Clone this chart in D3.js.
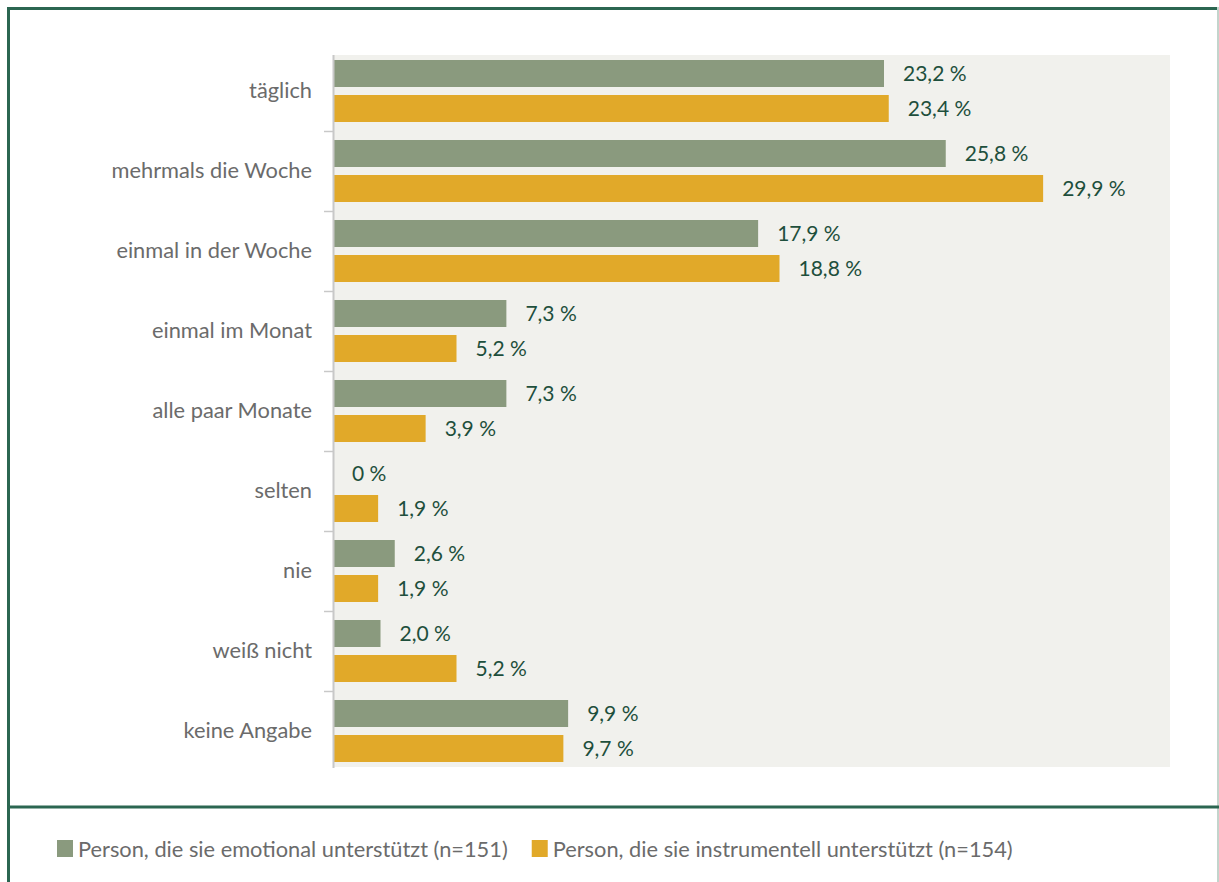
<!DOCTYPE html>
<html><head><meta charset="utf-8">
<script src="https://cdn.jsdelivr.net/npm/d3@7"></script>
<style>
html,body{margin:0;padding:0;background:#fff;}
svg{display:block;font-family:Lato, "Open Sans", sans-serif;}
</style></head>
<body>
<svg id="chart" width="1219" height="882"></svg>
<script>
const categories = ["täglich","mehrmals die Woche","einmal in der Woche","einmal im Monat","alle paar Monate","selten","nie","weiß nicht","keine Angabe"];
const seriesNames = ["Person, die sie emotional unterstützt (n=151)","Person, die sie instrumentell unterstützt (n=154)"];
const emotional = [23.2,25.8,17.9,7.3,7.3,0,2.6,2.0,9.9];
const instrumentell = [23.4,29.9,18.8,5.2,3.9,1.9,1.9,5.2,9.7];
const colors = ["#8a9a7e","#e1a929"];

const svg = d3.select("#chart");
const fmt = v => d3.format(".1f")(v).replace(".", ",") ;
const labelFmt = v => (v === 0 ? "0" : fmt(v)) + " %";

// frame
svg.append("line").attr("x1",8.5).attr("x2",8.5).attr("y1",7).attr("y2",882).attr("stroke","#2b6651").attr("stroke-width",3);
svg.append("line").attr("x1",7).attr("x2",1219).attr("y1",8.5).attr("y2",8.5).attr("stroke","#2b6651").attr("stroke-width",3);
svg.append("line").attr("x1",1218).attr("x2",1218).attr("y1",7).attr("y2",882).attr("stroke","#c3d4cc").attr("stroke-width",2);
svg.append("line").attr("x1",7).attr("x2",1219).attr("y1",807).attr("y2",807).attr("stroke","#2b6651").attr("stroke-width",3);

const x = d3.scaleLinear().domain([0,35]).range([333, 333+35*23.75]);
const y = d3.scaleBand().domain(categories).range([51,771]);
const ys = d3.scaleBand().domain([0,1]).range([9,71]).paddingInner(8/35).paddingOuter(0);

// plot background
svg.append("rect").attr("x",333).attr("y",55).attr("width",1170-333).attr("height",767-55).attr("fill","#f1f1ed");

const data = [emotional, instrumentell];
const g = svg.append("g");
categories.forEach((c,i)=>{
  data.forEach((s,j)=>{
    const v = s[i];
    const yy = y(c)+ys(j);
    g.append("rect").attr("x",x(0)).attr("y",yy).attr("width",x(v)-x(0)).attr("height",ys.bandwidth()).attr("fill",colors[j]);
    g.append("text").attr("x",x(v)+19).attr("y",yy+ys.bandwidth()/2).attr("dy","0.35em")
      .attr("font-size",21).attr("fill","#1e4f3c").text(labelFmt(v));
  });
  svg.append("text").attr("x",312).attr("y",y(c)+y.bandwidth()/2-1).attr("dy","0.35em")
    .attr("text-anchor","end").attr("font-size",21.8).attr("fill","#6b6b6b").text(c);
});

// axis
svg.append("line").attr("x1",333.5).attr("x2",333.5).attr("y1",55).attr("y2",768).attr("stroke","#c8c8c8").attr("stroke-width",2);
categories.slice(1).forEach(c=>{
  svg.append("line").attr("x1",324).attr("x2",333).attr("y1",Math.round(y(c))+0.5).attr("y2",Math.round(y(c))+0.5).attr("stroke","#c8c8c8").attr("stroke-width",1.5);
});

// legend
const lg = svg.append("g");
let lx = 57;
seriesNames.forEach((n,j)=>{
  lg.append("rect").attr("x",lx).attr("y",840).attr("width",16).attr("height",17).attr("fill",colors[j]);
  const t = lg.append("text").attr("x",lx+21).attr("y",849).attr("dy","0.35em").attr("font-size",21.8).attr("fill","#6b6b6b").text(n);
  lx = lx + 21 + t.node().getComputedTextLength() + 24;
});
</script>
</body></html>
